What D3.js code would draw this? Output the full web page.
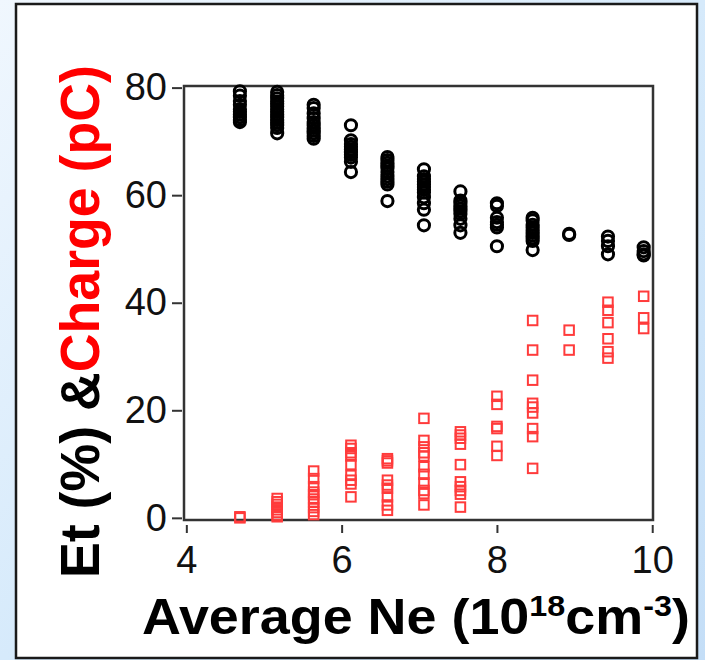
<!DOCTYPE html>
<html>
<head>
<meta charset="utf-8">
<title>Et and Charge vs Average Ne</title>
<script src="https://d3js.org/d3.v7.min.js"></script>
<style>
  html, body { margin: 0; padding: 0; }
  body { width: 705px; height: 660px; overflow: hidden; }
  svg { display: block; }
  .tick text { font-family: "Liberation Sans", Arial, sans-serif; }
</style>
</head>
<body>
<div id="holder"></div>
<script>
// Average Ne of each shot group (10^18 cm^-3)
const neGroups = [4.69, 5.17, 5.64, 6.12, 6.59, 7.06, 7.53, 8.00, 8.46, 8.93, 9.43, 9.89];

// Et (%) per group
const etByGroup = [
  [79.3, 78.5, 77.5, 76.8, 76.0, 75.5, 75.0, 74.5, 74.0, 73.6],
  [79.2, 78.6, 78.0, 77.4, 77.0, 76.5, 76.0, 75.5, 75.0, 74.5, 74.0, 73.5, 73.0, 72.5, 71.5],
  [76.8, 76.2, 75.2, 74.3, 73.6, 73.0, 72.5, 72.0, 71.5, 71.0, 70.5],
  [73.0, 70.2, 69.5, 69.0, 68.5, 68.0, 67.5, 67.0, 66.2, 64.3],
  [67.1, 66.5, 66.0, 65.5, 65.0, 64.3, 63.5, 63.0, 62.5, 62.0, 58.9],
  [64.8, 63.5, 63.0, 62.5, 62.0, 61.5, 61.0, 60.5, 59.6, 58.5, 57.3, 54.4],
  [60.7, 59.0, 58.5, 58.0, 57.5, 57.0, 56.5, 55.6, 54.4, 53.0],
  [58.5, 58.0, 55.8, 55.0, 54.5, 54.0, 50.5],
  [55.8, 55.3, 54.5, 54.0, 53.5, 53.0, 52.5, 52.0, 51.5, 49.8],
  [52.8, 52.6],
  [52.3, 51.5, 50.5, 49.0],
  [50.3, 49.6, 49.0, 48.8]
];

// Charge (pC) per group
const chargeByGroup = [
  [0.2, 0.0],
  [3.6, 3.0, 2.5, 2.0, 1.5, 1.0, 0.5, 0.2],
  [8.7, 7.3, 5.8, 4.8, 4.3, 3.5, 2.9, 1.9, 1.2, 0.6],
  [13.5, 12.9, 12.1, 11.5, 9.9, 7.9, 7.0, 6.3, 3.9],
  [11.0, 10.6, 10.2, 7.0, 6.1, 5.5, 3.9, 2.4, 1.4],
  [18.5, 14.4, 13.2, 12.1, 11.5, 9.5, 8.1, 6.5, 5.1, 4.5, 2.4],
  [16.0, 15.4, 14.8, 13.7, 9.9, 6.7, 5.8, 5.1, 4.4, 2.0],
  [22.6, 21.1, 17.0, 16.6, 13.3, 11.6],
  [36.7, 31.2, 25.6, 21.3, 20.6, 19.5, 16.6, 15.1, 9.2],
  [34.9, 31.2],
  [40.1, 38.6, 36.3, 33.3, 30.9, 29.7],
  [41.2, 37.2, 35.2]
];

const xTicks = [4, 6, 8, 10];
const yTicks = [0, 20, 40, 60, 80];

const w = 705;
const h = 660;
const plot = {left: 184, right: 653, top: 86, bottom: 520};

// flatten into points
const etPts = [];
const chargePts = [];
neGroups.forEach((ne, i) => {
  etByGroup[i].forEach(v => etPts.push({ne: ne, v: v}));
  chargeByGroup[i].forEach(v => chargePts.push({ne: ne, v: v}));
});

const svg = d3.select("#holder")
  .append("svg")
  .attr("width", w)
  .attr("height", h);

// background gradient
const defs = svg.append("defs");
const grad = defs.append("linearGradient")
  .attr("id", "bg")
  .attr("x1", "0").attr("y1", "0")
  .attr("x2", "1").attr("y2", "1");
grad.append("stop").attr("offset", "0").attr("stop-color", "#f0f7fe");
grad.append("stop").attr("offset", "0.5").attr("stop-color", "#d6eafb");
grad.append("stop").attr("offset", "1").attr("stop-color", "#c4def7");

svg.append("rect")
  .attr("width", w).attr("height", h)
  .attr("fill", "url(#bg)");

// white panel
svg.append("rect")
  .attr("x", 16).attr("y", 4)
  .attr("width", 681).attr("height", 654)
  .attr("fill", "#fff")
  .attr("stroke", "#1a1a1a")
  .attr("stroke-width", 2.5);

//Scales
const xScale = d3.scaleLinear()
  .domain([3.97, 10.01])
  .range([plot.left, plot.right]);

const yScale = d3.scaleLinear()
  .domain([-0.4, 80.3])
  .range([plot.bottom, plot.top]);

//Axes
const yAxis = d3.axisLeft(yScale).tickValues(yTicks).tickSize(10).tickPadding(5).tickFormat(d3.format("d"));
const gy = svg.append("g")
  .attr("transform", "translate(" + (plot.left - 2) + ",0)")
  .call(yAxis);

const xAxis = d3.axisBottom(xScale).tickValues(xTicks).tickSize(8).tickPadding(13).tickFormat(d3.format("d"));
const gx = svg.append("g")
  .attr("transform", "translate(0," + (plot.bottom + 5) + ")")
  .call(xAxis);

[gx, gy].forEach(g => {
  g.select(".domain").remove();
  g.selectAll(".tick line").attr("stroke", "#333").attr("stroke-width", 2);
  g.selectAll(".tick text")
    .attr("fill", "#111")
    .style("font-size", "38px");
});

// plot frame
svg.append("rect")
  .attr("x", plot.left).attr("y", plot.top)
  .attr("width", plot.right - plot.left)
  .attr("height", plot.bottom - plot.top)
  .attr("fill", "none")
  .attr("stroke", "#333")
  .attr("stroke-width", 2.5);

// Et circles
svg.append("g").selectAll("circle")
  .data(etPts)
  .enter()
  .append("circle")
  .attr("cx", d => xScale(d.ne))
  .attr("cy", d => yScale(d.v))
  .attr("r", 5.6)
  .attr("fill", "none")
  .attr("stroke", "#000")
  .attr("stroke-width", 3);

// Charge squares
const sq = 9.5;
svg.append("g").selectAll("rect")
  .data(chargePts)
  .enter()
  .append("rect")
  .attr("x", d => xScale(d.ne) - sq / 2)
  .attr("y", d => yScale(d.v) - sq / 2)
  .attr("width", sq)
  .attr("height", sq)
  .attr("fill", "none")
  .attr("stroke", "#ff3b3b")
  .attr("stroke-width", 2);

//Labels
//X label
const xl = svg.append("text")
  .attr("x", 0)
  .attr("y", 0)
  .style("font-family", "'Liberation Sans', Arial, sans-serif")
  .style("font-weight", "bold")
  .style("font-size", "50px")
  .attr("fill", "#000");
xl.append("tspan").text("Average Ne (10");
xl.append("tspan").attr("dy", -18).style("font-size", "30px").text("18");
xl.append("tspan").attr("dy", 18).text("cm");
xl.append("tspan").attr("dy", -18).style("font-size", "30px").text("-3");
xl.append("tspan").attr("dy", 18).text(")");
const xw = xl.node().getBBox().width;
xl.attr("transform", "translate(142,634) scale(" + (548 / xw) + ",1)");

//Y label
const yl = svg.append("text")
  .attr("x", 0)
  .attr("y", 0)
  .style("font-family", "'Liberation Sans', Arial, sans-serif")
  .style("font-weight", "bold")
  .style("font-size", "56px");
yl.append("tspan").attr("fill", "#000").text("Et (%) &");
yl.append("tspan").attr("fill", "#ff0000").text("Charge (pC)");
const yw = yl.node().getBBox().width;
yl.attr("transform", "translate(99,578) rotate(-90) scale(" + (513 / yw) + ",1)");
</script>
</body>
</html>
